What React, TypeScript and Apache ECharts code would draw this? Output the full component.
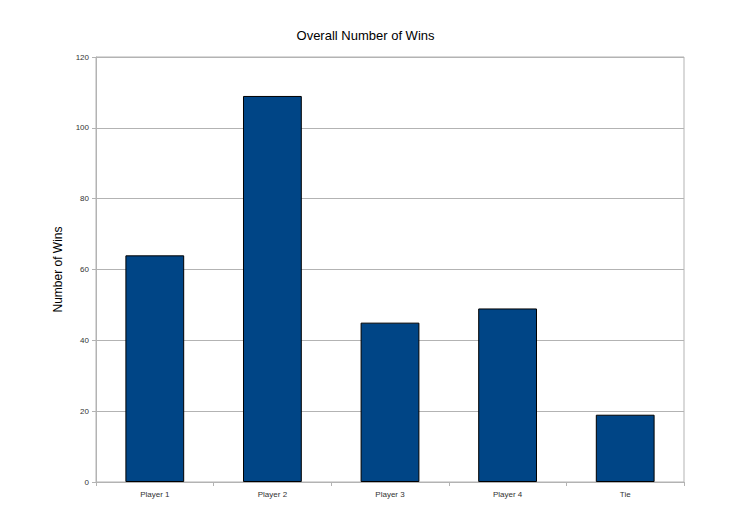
import React, { useEffect, useRef } from "react";
import * as echarts from "echarts";

const categories = ["Player 1", "Player 2", "Player 3", "Player 4", "Tie"];
const wins = [64, 109, 45, 49, 19];
const yTicks = [0, 20, 40, 60, 80, 100, 120];

export default function App() {
  const ref = useRef<HTMLDivElement>(null);
  useEffect(() => {
    const chart = echarts.init(ref.current!, null, { renderer: "svg" });
    const font = "Liberation Sans, Arial, sans-serif";
    chart.setOption({
      animation: false,
      backgroundColor: "#ffffff",
      textStyle: { fontFamily: font },
      title: {
        text: "Overall Number of Wins",
        left: "center",
        top: 24,
        textStyle: { fontSize: 13, fontWeight: "normal", color: "#000", fontFamily: font },
      },
      grid: {
        show: true,
        left: 96,
        right: 47,
        top: 57,
        bottom: 41,
        borderColor: "#b3b3b3",
        borderWidth: 1,
        containLabel: false,
      },
      xAxis: {
        type: "category",
        data: categories,
        boundaryGap: true,
        axisLine: { show: true, lineStyle: { color: "#b3b3b3" } },
        axisTick: { show: true, inside: false, length: 4, alignWithLabel: false, lineStyle: { color: "#b3b3b3" } },
        axisLabel: { fontSize: 8, color: "#333", margin: 8, fontFamily: font },
        splitLine: { show: false },
      },
      yAxis: {
        type: "value",
        min: yTicks[0],
        max: yTicks[yTicks.length - 1],
        interval: 20,
        name: "Number of Wins",
        nameLocation: "middle",
        nameRotate: 90,
        nameGap: 32,
        nameTextStyle: { fontSize: 12, color: "#000", fontFamily: font },
        axisLine: { show: true, lineStyle: { color: "#b3b3b3" } },
        axisTick: { show: true, inside: false, length: 4, lineStyle: { color: "#b3b3b3" } },
        axisLabel: { fontSize: 8, color: "#333", margin: 7, fontFamily: font },
        splitLine: { show: true, lineStyle: { color: "#b3b3b3", width: 1 } },
      },
      series: [
        {
          type: "bar",
          data: wins,
          barWidth: "50%",
          itemStyle: { color: "#004586", borderColor: "#000", borderWidth: 1 },
        },
      ],
    });
    return () => chart.dispose();
  }, []);
  return (
    <div
      ref={ref}
      style={{ position: "fixed", left: 0, top: 0, width: 731, height: 523 }}
    />
  );
}
